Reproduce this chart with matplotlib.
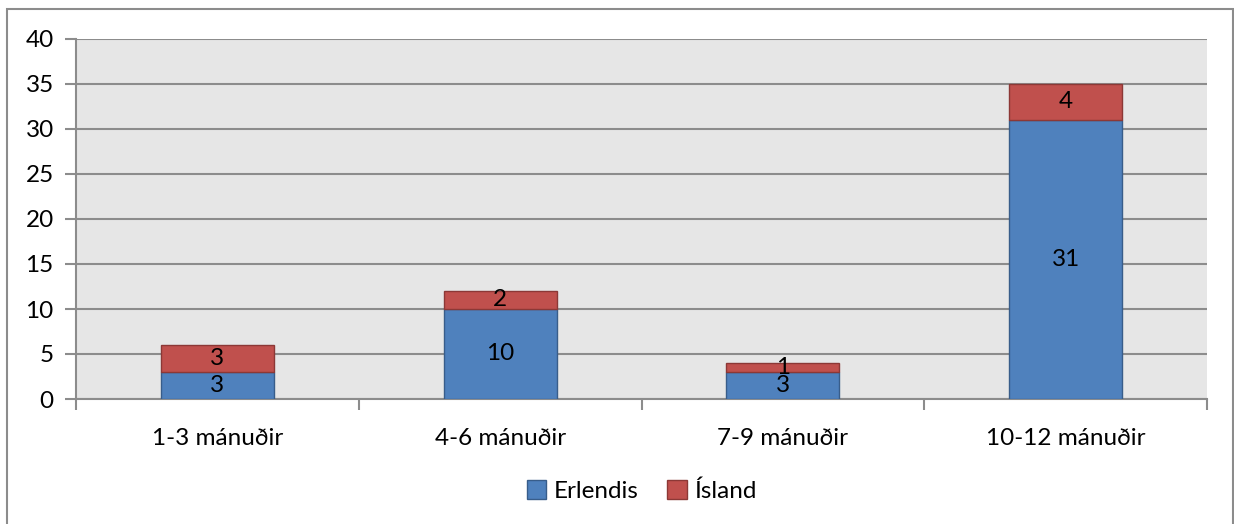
import numpy as np
import matplotlib.pyplot as plt
from matplotlib.patches import Rectangle

# Gögn
flokkar = ['1-3 mánuðir', '4-6 mánuðir', '7-9 mánuðir', '10-12 mánuðir']
erlendis = [3, 10, 3, 31]
island = [3, 2, 1, 4]

plt.rcParams['font.family'] = ['Lato', 'DejaVu Sans']
fs = 17.5

fig = plt.figure(figsize=(12.34, 5.24), dpi=100)
ax = fig.add_axes([76 / 1234, 1 - 399 / 524, (1207 - 76) / 1234, (399 - 39) / 524])

# Rammi utan um myndina
fig.patches.append(Rectangle((7 / 1234, -0.01), (1233 - 7) / 1234, 1 - 9 / 524 + 0.01,
                             transform=fig.transFigure, fill=False,
                             edgecolor='#8c8c8c', linewidth=1.5))

x = np.arange(len(flokkar))
b1 = ax.bar(x, erlendis, width=0.4, color='#4f81bd', edgecolor='#385d8a',
            linewidth=1, label='Erlendis', zorder=3)
b2 = ax.bar(x, island, width=0.4, bottom=erlendis, color='#c0504d',
            edgecolor='#8c3836', linewidth=1, label='Ísland', zorder=3)

ax.bar_label(b1, label_type='center', fontsize=fs, color='black')
ax.bar_label(b2, label_type='center', fontsize=fs, color='black')

ax.set_facecolor('#e6e6e6')
ax.set_xlim(-0.5, len(flokkar) - 0.5)
ax.set_ylim(0, 40)
ax.set_yticks(range(0, 41, 5))
ax.yaxis.grid(True, color='#8c8c8c', linewidth=1.5, zorder=0)
ax.set_axisbelow(True)

for s in ['top', 'right']:
    ax.spines[s].set_visible(False)
ax.spines['left'].set_color('#8c8c8c')
ax.spines['bottom'].set_color('#8c8c8c')
ax.spines['left'].set_linewidth(1.5)
ax.spines['bottom'].set_linewidth(1.5)

ax.set_xticks(x)
ax.set_xticklabels(flokkar, fontsize=fs)
ax.tick_params(axis='x', length=0, pad=21)
ax.set_xticks(np.arange(-0.5, len(flokkar), 1), minor=True)
ax.tick_params(axis='x', which='minor', length=8, color='#8c8c8c', width=1.5)
ax.tick_params(axis='y', labelsize=fs, length=8, color='#8c8c8c', width=1.5, pad=8)

ax.legend(loc='center', bbox_to_anchor=(0.5, -0.255), ncol=2, frameon=False,
          fontsize=fs, handlelength=0.8, handleheight=0.8, handletextpad=0.3,
          columnspacing=1.2)

fig.savefig('out.png', dpi=100)
